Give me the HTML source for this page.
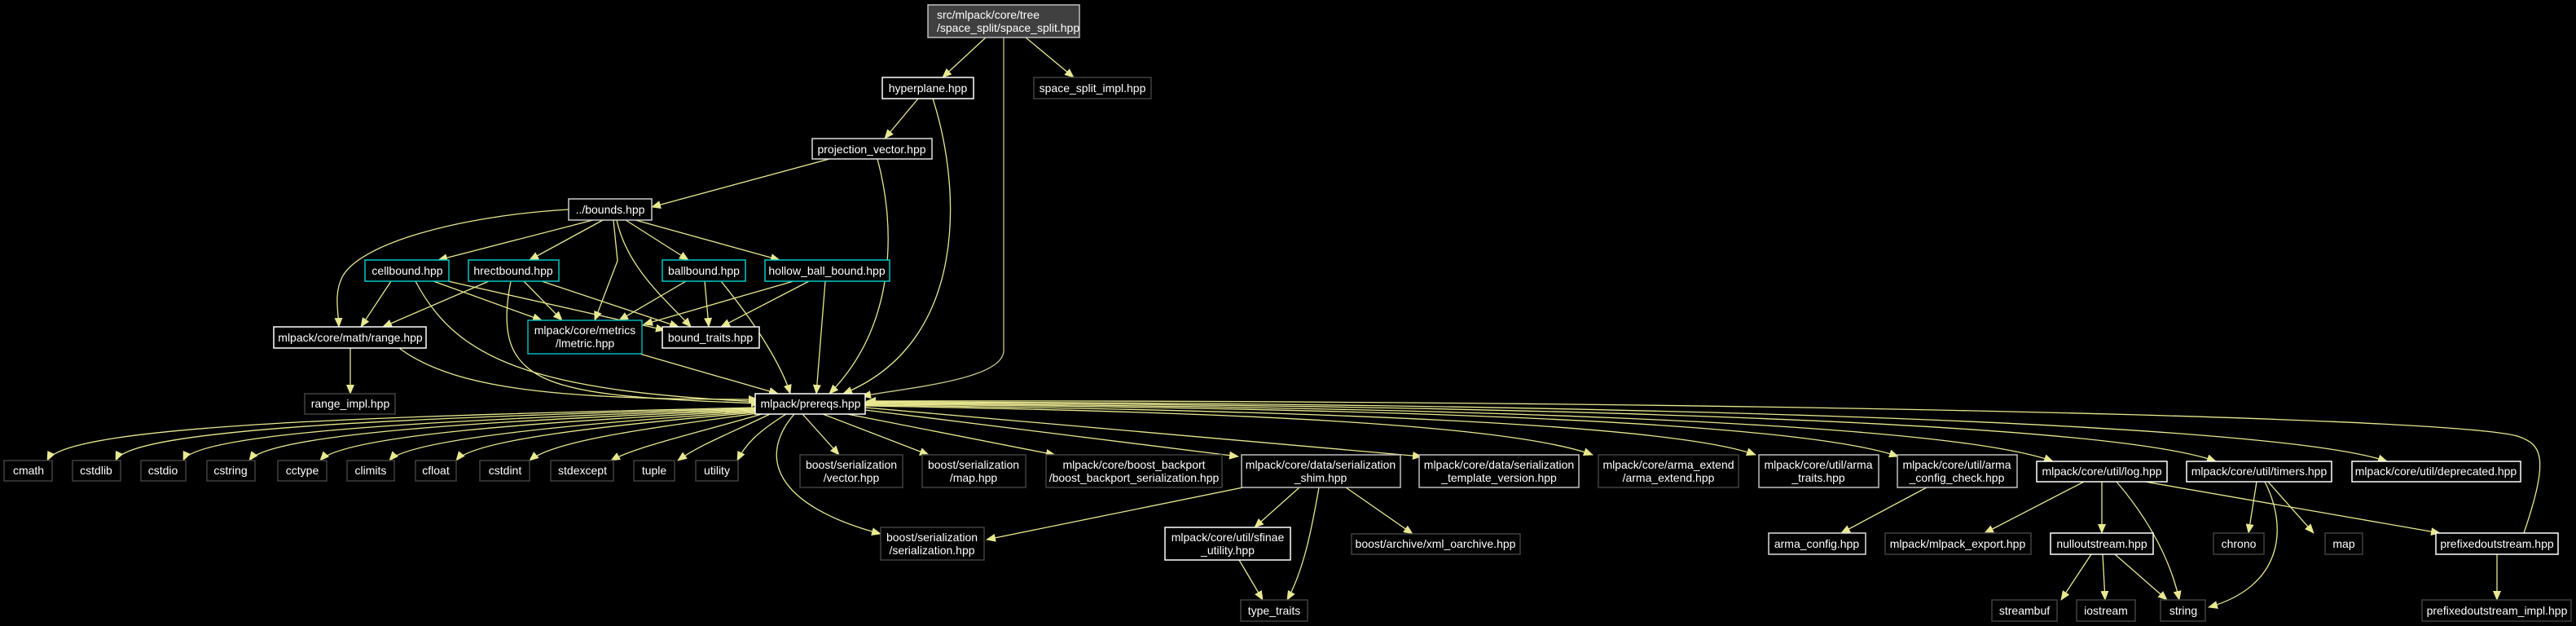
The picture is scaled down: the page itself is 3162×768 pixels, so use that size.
<!DOCTYPE html>
<html><head><meta charset="utf-8">
<style>
html,body{margin:0;padding:0;background:#000;width:3162px;height:768px;overflow:hidden;}
svg{display:block}
text{font-family:"Liberation Sans",sans-serif;font-size:14px;fill:#fff;}
</style></head>
<body>
<svg width="3162" height="768" viewBox="0 0 3162 768" xmlns="http://www.w3.org/2000/svg">
<defs>
<marker id="a" markerUnits="userSpaceOnUse" markerWidth="12" markerHeight="10" refX="11" refY="5" orient="auto">
<path d="M0,0 L12,5 L0,10 Z" fill="#e8e890"/>
</marker>
</defs>
<rect width="3162" height="768" fill="#000"/>
<g fill="none" stroke="#e8e890" stroke-width="1.3" marker-end="url(#a)">
<path d="M1210,46 L1157,95"/>
<path d="M1259,46 L1318,95"/>
<path d="M1232,46 L1232,430 C1232,465 1120,475 1058,486" stroke="#c8c888"/>
<path d="M1127,121 L1086,170"/>
<path d="M1145,121 C1180,230 1190,420 1035,483"/>
<path d="M1018,195 L800,254"/>
<path d="M1077,195 C1100,280 1100,400 1018,483"/>
<path d="M698,257 C560,265 440,300 420,340 C410,360 415,380 416,401"/>
<path d="M728,270 L538,319"/>
<path d="M740,270 L650,319"/>
<path d="M753,270 L758,320 L730,393"/>
<path d="M768,270 L845,319"/>
<path d="M780,270 L957,319"/>
<path d="M757,270 C770,330 820,370 848,401"/>
<path d="M480,345 L443,401"/>
<path d="M532,345 L665,393"/>
<path d="M550,345 L816,405"/>
<path d="M510,345 C560,440 650,480 935,493"/>
<path d="M600,345 L470,401"/>
<path d="M643,345 L690,393"/>
<path d="M665,345 L833,401"/>
<path d="M627,345 C600,480 680,485 933,495"/>
<path d="M842,345 L760,393"/>
<path d="M865,345 L870,401"/>
<path d="M885,345 C930,400 960,450 970,483"/>
<path d="M974,345 L790,398"/>
<path d="M993,345 L885,401"/>
<path d="M1013,345 L1002,483"/>
<path d="M785,434 L955,483"/>
<path d="M430,427 L430,483"/>
<path d="M490,427 C560,480 700,490 930,490"/>
<path d="M927,500 C500,510 80,520 58,565"/>
<path d="M927,501 C520,512 160,525 142,565"/>
<path d="M927,502 C560,514 240,530 225,565"/>
<path d="M927,503 C600,516 330,532 306,565"/>
<path d="M927,504 C650,518 420,535 393,565"/>
<path d="M927,505 C700,520 500,540 478,565"/>
<path d="M928,506 C740,522 580,540 560,565"/>
<path d="M930,507 C800,525 680,540 650,565"/>
<path d="M935,508 C860,530 780,548 750,565"/>
<path d="M945,508 C900,530 860,545 832,565"/>
<path d="M965,508 C930,530 915,545 905,565"/>
<path d="M975,508 C930,560 950,620 1081,655"/>
<path d="M985,508 L1030,558"/>
<path d="M1010,508 L1140,558"/>
<path d="M1040,508 L1295,558"/>
<path d="M1062,503 L1520,560"/>
<path d="M1062,500 L1745,560"/>
<path d="M1062,498 C1500,505 1850,520 1955,558"/>
<path d="M1062,497 C1600,503 2050,520 2155,558"/>
<path d="M1062,496 C1650,500 2200,515 2330,560"/>
<path d="M1062,495 C1700,498 2380,515 2520,566"/>
<path d="M1062,494 C1800,496 2580,515 2720,566"/>
<path d="M1062,493 C1900,494 2780,515 2930,566"/>
<path d="M3098,654 C3130,560 3120,545 3090,535 C3000,510 2000,490 1064,492"/>
<path d="M1526,598 L1211,662"/>
<path d="M1595,598 L1540,647"/>
<path d="M1619,598 C1610,650 1600,700 1580,736"/>
<path d="M1652,598 L1734,655"/>
<path d="M1521,687 L1550,736"/>
<path d="M2365,598 L2260,654"/>
<path d="M2558,591 L2436,654"/>
<path d="M2580,591 L2580,654"/>
<path d="M2598,591 C2640,640 2665,690 2675,736"/>
<path d="M2633,591 L2995,654"/>
<path d="M2770,591 L2760,654"/>
<path d="M2784,591 L2840,654"/>
<path d="M2780,591 C2810,650 2800,720 2711,745"/>
<path d="M2567,680 L2530,736"/>
<path d="M2581,680 L2584,736"/>
<path d="M2596,680 L2660,736"/>
<path d="M3065,680 L3065,736"/>
</g>
<g stroke-width="1.5" fill="#000">
<rect x="1139" y="6" width="186" height="40" fill="#404040" stroke="#bfbfbf"/>
<rect x="1083" y="95" width="112" height="26" stroke="#fff"/>
<rect x="1269" y="95" width="144" height="26" stroke="#404040"/>
<rect x="997" y="170" width="147" height="25" stroke="#ddd"/>
<rect x="698" y="244" width="102" height="26" stroke="#ccc"/>
<rect x="448" y="319" width="103" height="26" stroke="#00c8c8"/>
<rect x="575" y="319" width="111" height="26" stroke="#00c8c8"/>
<rect x="813" y="319" width="102" height="26" stroke="#00c8c8"/>
<rect x="939" y="319" width="153" height="26" stroke="#00c8c8"/>
<rect x="336" y="401" width="187" height="26" stroke="#fff"/>
<rect x="648" y="393" width="140" height="41" stroke="#00b4b4"/>
<rect x="813" y="401" width="119" height="26" stroke="#fff"/>
<rect x="374" y="483" width="111" height="25" stroke="#404040"/>
<rect x="927" y="483" width="135" height="25" stroke="#fff"/>
<g stroke="#404040">
<rect x="5" y="565" width="59" height="25"/>
<rect x="89" y="565" width="59" height="25"/>
<rect x="173" y="565" width="55" height="25"/>
<rect x="254" y="565" width="59" height="25"/>
<rect x="341" y="565" width="60" height="25"/>
<rect x="426" y="565" width="58" height="25"/>
<rect x="510" y="565" width="50" height="25"/>
<rect x="589" y="565" width="61" height="25"/>
<rect x="676" y="565" width="77" height="25"/>
<rect x="778" y="565" width="50" height="25"/>
<rect x="854" y="565" width="52" height="25"/>
<rect x="982" y="558" width="126" height="40"/>
<rect x="1132" y="558" width="127" height="40"/>
<rect x="1284" y="558" width="216" height="40"/>
<rect x="1962" y="558" width="172" height="40"/>
<rect x="1081" y="647" width="127" height="40"/>
<rect x="1659" y="655" width="207" height="25"/>
<rect x="1523" y="736" width="82" height="26"/>
<rect x="2314" y="654" width="179" height="26"/>
<rect x="2717" y="654" width="62" height="26"/>
<rect x="2854" y="654" width="46" height="26"/>
<rect x="2445" y="736" width="80" height="26"/>
<rect x="2549" y="736" width="72" height="26"/>
<rect x="2652" y="736" width="55" height="26"/>
<rect x="2973" y="736" width="183" height="26"/>
</g>
<rect x="1524" y="558" width="195" height="40" stroke="#c0c0c0"/>
<rect x="1742" y="558" width="196" height="40" stroke="#c0c0c0"/>
<rect x="2159" y="558" width="147" height="40" stroke="#c0c0c0"/>
<rect x="2329" y="558" width="147" height="40" stroke="#c0c0c0"/>
<rect x="2500" y="566" width="160" height="25" stroke="#fff"/>
<rect x="2684" y="566" width="178" height="25" stroke="#fff"/>
<rect x="2887" y="566" width="207" height="25" stroke="#fff"/>
<rect x="1430" y="647" width="154" height="40" stroke="#fff"/>
<rect x="2171" y="654" width="119" height="26" stroke="#ddd"/>
<rect x="2517" y="654" width="126" height="26" stroke="#fff"/>
<rect x="2990" y="654" width="150" height="26" stroke="#fff"/>
</g>
<g>
<text x="1150" y="23">src/mlpack/core/tree</text>
<text x="1150" y="39">/space_split/space_split.hpp</text>
<text x="1139" y="113" text-anchor="middle">hyperplane.hpp</text>
<text x="1341" y="113" text-anchor="middle">space_split_impl.hpp</text>
<text x="1070" y="188" text-anchor="middle">projection_vector.hpp</text>
<text x="749" y="262" text-anchor="middle">../bounds.hpp</text>
<text x="500" y="337" text-anchor="middle">cellbound.hpp</text>
<text x="630" y="337" text-anchor="middle">hrectbound.hpp</text>
<text x="864" y="337" text-anchor="middle">ballbound.hpp</text>
<text x="1015" y="337" text-anchor="middle">hollow_ball_bound.hpp</text>
<text x="430" y="419" text-anchor="middle">mlpack/core/math/range.hpp</text>
<text x="718" y="410" text-anchor="middle">mlpack/core/metrics</text>
<text x="718" y="426" text-anchor="middle">/lmetric.hpp</text>
<text x="872" y="419" text-anchor="middle">bound_traits.hpp</text>
<text x="430" y="500" text-anchor="middle">range_impl.hpp</text>
<text x="995" y="500" text-anchor="middle">mlpack/prereqs.hpp</text>
<text x="35" y="582" text-anchor="middle">cmath</text>
<text x="118" y="582" text-anchor="middle">cstdlib</text>
<text x="200" y="582" text-anchor="middle">cstdio</text>
<text x="283" y="582" text-anchor="middle">cstring</text>
<text x="371" y="582" text-anchor="middle">cctype</text>
<text x="455" y="582" text-anchor="middle">climits</text>
<text x="535" y="582" text-anchor="middle">cfloat</text>
<text x="620" y="582" text-anchor="middle">cstdint</text>
<text x="715" y="582" text-anchor="middle">stdexcept</text>
<text x="803" y="582" text-anchor="middle">tuple</text>
<text x="880" y="582" text-anchor="middle">utility</text>
<text x="1045" y="575" text-anchor="middle">boost/serialization</text>
<text x="1045" y="591" text-anchor="middle">/vector.hpp</text>
<text x="1195" y="575" text-anchor="middle">boost/serialization</text>
<text x="1195" y="591" text-anchor="middle">/map.hpp</text>
<text x="1392" y="575" text-anchor="middle">mlpack/core/boost_backport</text>
<text x="1392" y="591" text-anchor="middle">/boost_backport_serialization.hpp</text>
<text x="1621" y="575" text-anchor="middle">mlpack/core/data/serialization</text>
<text x="1621" y="591" text-anchor="middle">_shim.hpp</text>
<text x="1840" y="575" text-anchor="middle">mlpack/core/data/serialization</text>
<text x="1840" y="591" text-anchor="middle">_template_version.hpp</text>
<text x="2048" y="575" text-anchor="middle">mlpack/core/arma_extend</text>
<text x="2048" y="591" text-anchor="middle">/arma_extend.hpp</text>
<text x="2232" y="575" text-anchor="middle">mlpack/core/util/arma</text>
<text x="2232" y="591" text-anchor="middle">_traits.hpp</text>
<text x="2402" y="575" text-anchor="middle">mlpack/core/util/arma</text>
<text x="2402" y="591" text-anchor="middle">_config_check.hpp</text>
<text x="2580" y="583" text-anchor="middle">mlpack/core/util/log.hpp</text>
<text x="2773" y="583" text-anchor="middle">mlpack/core/util/timers.hpp</text>
<text x="2990" y="583" text-anchor="middle">mlpack/core/util/deprecated.hpp</text>
<text x="1144" y="664" text-anchor="middle">boost/serialization</text>
<text x="1144" y="680" text-anchor="middle">/serialization.hpp</text>
<text x="1507" y="664" text-anchor="middle">mlpack/core/util/sfinae</text>
<text x="1507" y="680" text-anchor="middle">_utility.hpp</text>
<text x="1762" y="672" text-anchor="middle">boost/archive/xml_oarchive.hpp</text>
<text x="1564" y="754" text-anchor="middle">type_traits</text>
<text x="2230" y="672" text-anchor="middle">arma_config.hpp</text>
<text x="2403" y="672" text-anchor="middle">mlpack/mlpack_export.hpp</text>
<text x="2580" y="672" text-anchor="middle">nulloutstream.hpp</text>
<text x="2748" y="672" text-anchor="middle">chrono</text>
<text x="2877" y="672" text-anchor="middle">map</text>
<text x="3065" y="672" text-anchor="middle">prefixedoutstream.hpp</text>
<text x="2485" y="754" text-anchor="middle">streambuf</text>
<text x="2585" y="754" text-anchor="middle">iostream</text>
<text x="2680" y="754" text-anchor="middle">string</text>
<text x="3065" y="754" text-anchor="middle">prefixedoutstream_impl.hpp</text>
</g>
</svg>
</body></html>
